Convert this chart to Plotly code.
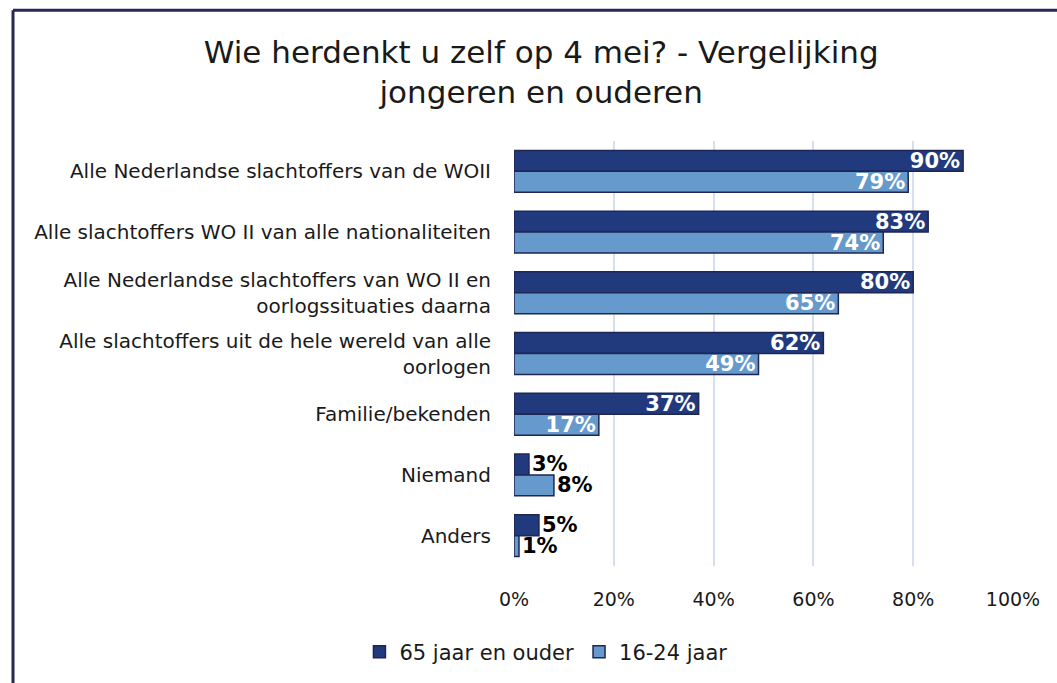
import plotly.graph_objects as go

categories = [
    "Alle Nederlandse slachtoffers van de WOII",
    "Alle slachtoffers WO II van alle nationaliteiten",
    "Alle Nederlandse slachtoffers van WO II en<br>oorlogssituaties daarna",
    "Alle slachtoffers uit de hele wereld van alle<br>oorlogen",
    "Familie/bekenden",
    "Niemand",
    "Anders",
]
ouder = [90, 83, 80, 62, 37, 3, 5]
jong = [79, 74, 65, 49, 17, 8, 1]
series_names = ["65 jaar en ouder", "16-24 jaar"]

FONT = "DejaVu Sans"
dark = "#203A7D"
light = "#6699CC"
edge = "#1E2654"


def text_pos(vals):
    # small bars get their label outside in black
    return ["inside" if v >= 15 else "outside" for v in vals]


def text_col(vals):
    return ["white" if v >= 15 else "black" for v in vals]


fig = go.Figure()
for name, vals, col in [(series_names[0], ouder, dark), (series_names[1], jong, light)]:
    fig.add_trace(go.Bar(
        y=categories, x=vals, name=name, orientation="h",
        marker=dict(color=col, line=dict(color=edge, width=1.5)),
        text=[f"{v}%" for v in vals],
        texttemplate="<b>%{text}</b>",
        textposition=text_pos(vals),
        insidetextanchor="end",
        constraintext="none",
        textfont=dict(family=FONT, size=21, color=text_col(vals)),
        cliponaxis=False,
    ))

# outer frame (left and top edge only, as in the original)
W, H = 1057, 683
l, r, t, b = 514, 44, 141, 116
pw, ph = W - l - r, H - t - b
x_left = (13 - l) / pw
y_top = (H - b - 10) / ph
fig.add_shape(type="line", xref="paper", yref="paper", x0=x_left, x1=x_left,
              y0=-b / ph - 0.05, y1=y_top, line=dict(color="#262850", width=3))
fig.add_shape(type="line", xref="paper", yref="paper", x0=x_left, x1=(W - l) / pw + 0.05,
              y0=y_top, y1=y_top, line=dict(color="#262850", width=3))

fig.update_layout(
    width=W, height=H,
    margin=dict(l=l, r=r, t=t, b=b),
    paper_bgcolor="white", plot_bgcolor="white",
    barmode="group", bargap=0.31, bargroupgap=0,
    font=dict(family=FONT, color="#1a1a1a"),
    title=dict(text="Wie herdenkt u zelf op 4 mei? - Vergelijking<br>jongeren en ouderen",
               x=0.512, xanchor="center", y=0.908, yanchor="middle",
               font=dict(size=31, color="#1a1a1a")),
    xaxis=dict(range=[0, 100], dtick=20, ticksuffix="%", showgrid=True,
               gridcolor="#D6DFF2", gridwidth=1.5, zeroline=False,
               ticks="outside", ticklen=16, tickcolor="white",
               tickfont=dict(size=19), fixedrange=True),
    yaxis=dict(autorange="reversed", ticks="outside", ticklen=18, tickcolor="white",
               tickfont=dict(size=20), showline=False),
    legend=dict(orientation="h", x=0.064, xanchor="center", xref="paper",
                y=-0.2, yanchor="middle", font=dict(size=21),
                itemwidth=30, traceorder="normal"),
    showlegend=True,
)

fig.write_html("out.html", config={"displayModeBar": False},
               post_script="document.body.style.margin='0px';")
